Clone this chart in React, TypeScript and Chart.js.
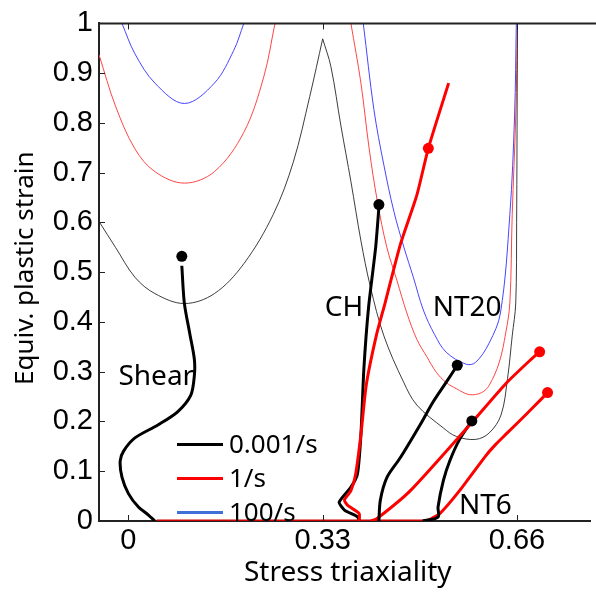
import React, { useEffect, useRef } from 'react';
import { Chart, registerables } from 'chart.js';

Chart.register(...registerables);

// ---- axis ticks ----
const xTicks = [0, 0.33, 0.66];
const xTickLabels = ['0', '0.33', '0.66'];
const yTicks = [0, 0.1, 0.2, 0.3, 0.4, 0.5, 0.6, 0.7, 0.8, 0.9, 1];
const yTickLabels = ['0', '0.1', '0.2', '0.3', '0.4', '0.5', '0.6', '0.7', '0.8', '0.9', '1'];

// ---- failure loci (thin) ----
const blackLocusLeftX = [-0.05, -0.022, 0.011, 0.045, 0.095, 0.146, 0.196, 0.246, 0.28, 0.308, 0.33];
const blackLocusLeftY = [0.602, 0.55, 0.49, 0.457, 0.437, 0.457, 0.517, 0.616, 0.721, 0.853, 0.969];
const blackLocusRightX = [0.33, 0.344, 0.361, 0.378, 0.395, 0.411, 0.434, 0.4675, 0.49, 0.535, 0.557, 0.59, 0.613, 0.633, 0.644, 0.652, 0.658, 0.6595, 0.6606, 0.661];
const blackLocusRightY = [0.969, 0.913, 0.794, 0.682, 0.563, 0.471, 0.372, 0.279, 0.233, 0.187, 0.17, 0.164, 0.177, 0.213, 0.286, 0.372, 0.438, 0.6, 0.9, 1.0];

const redLocusLeftX = [-0.05, -0.022, 0.011, 0.045, 0.095, 0.146, 0.196, 0.23, 0.249];
const redLocusLeftY = [0.937, 0.834, 0.748, 0.702, 0.679, 0.702, 0.781, 0.893, 1.0];
const redLocusRightX = [0.378, 0.395, 0.409, 0.423, 0.439, 0.456, 0.473, 0.49, 0.507, 0.523, 0.54, 0.557, 0.579, 0.6, 0.613, 0.63, 0.641, 0.648, 0.652, 0.658, 0.661];
const redLocusRightY = [1.0, 0.88, 0.748, 0.642, 0.55, 0.484, 0.418, 0.365, 0.33, 0.299, 0.278, 0.266, 0.254, 0.258, 0.273, 0.319, 0.378, 0.438, 0.616, 0.814, 1.0];

const blueLocusLeftX = [-0.011, 0.011, 0.045, 0.095, 0.146, 0.179, 0.196];
const blueLocusLeftY = [1.0, 0.939, 0.88, 0.839, 0.88, 0.946, 1.0];
const blueLocusRightX = [0.399, 0.417, 0.434, 0.451, 0.468, 0.484, 0.501, 0.52, 0.54, 0.574, 0.59, 0.613, 0.632, 0.648, 0.656, 0.659];
const blueLocusRightY = [1.0, 0.827, 0.715, 0.622, 0.55, 0.49, 0.424, 0.375, 0.339, 0.315, 0.319, 0.358, 0.418, 0.616, 0.814, 1.0];

// ---- test paths (thick) ----
const shearX = [0.045, 0.034, 0.017, 0.0, -0.011, -0.014, -0.008, 0.011, 0.05, 0.084, 0.106, 0.112, 0.112, 0.104, 0.095, 0.0907];
const shearY = [0.0, 0.012, 0.028, 0.055, 0.088, 0.121, 0.141, 0.167, 0.193, 0.22, 0.253, 0.292, 0.325, 0.378, 0.438, 0.513];

const chBlackX = [0.393, 0.389, 0.367, 0.358, 0.378, 0.389, 0.395, 0.4, 0.408, 0.42, 0.4255];
const chBlackY = [0.0, 0.0085, 0.022, 0.038, 0.068, 0.094, 0.174, 0.306, 0.43, 0.55, 0.63];
const chRedX = [0.392, 0.392, 0.372, 0.367, 0.378, 0.386, 0.395, 0.404, 0.421, 0.436, 0.462, 0.49, 0.5095, 0.544];
const chRedY = [0.0, 0.015, 0.032, 0.042, 0.061, 0.094, 0.174, 0.273, 0.372, 0.438, 0.556, 0.655, 0.749, 0.88];

const nt20BlackX = [0.4255, 0.428, 0.4394, 0.4618, 0.4954, 0.518, 0.54, 0.5587];
const nt20BlackY = [0.0, 0.042, 0.088, 0.127, 0.193, 0.24, 0.279, 0.313];
const nt20RedX = [0.412, 0.4225, 0.479, 0.5834, 0.641, 0.686, 0.6986];
const nt20RedY = [0.0, 0.005, 0.061, 0.198, 0.276, 0.327, 0.34];

const nt6BlackX = [0.5, 0.526, 0.526, 0.535, 0.546, 0.5626, 0.5834];
const nt6BlackY = [0.0, 0.008, 0.028, 0.081, 0.121, 0.164, 0.201];
const nt6RedX = [0.507, 0.529, 0.5626, 0.607, 0.624, 0.641, 0.6746, 0.6997, 0.712];
const nt6RedY = [0.0, 0.015, 0.061, 0.131, 0.154, 0.174, 0.213, 0.243, 0.258];

const redBaseX = [0.048, 0.51];
const redBaseY = [0, 0];

// ---- fracture points ----
const blackDotX = [0.0907, 0.4255, 0.5587, 0.5834];
const blackDotY = [0.532, 0.636, 0.313, 0.201];
const redDotX = [0.5095, 0.6986, 0.712];
const redDotY = [0.749, 0.34, 0.258];

// ---- annotations & legend ----
const noteTexts = ['Shear', 'CH', 'NT20', 'NT6'];
const noteX = [-0.017, 0.3335, 0.517, 0.5615];
const noteY = [0.2727, 0.411, 0.411, 0.0133];
const legendLabels = ['0.001/s', '1/s', '100/s'];
const legendColors = ['#000000', '#ff0000', '#3f6fd8'];

const xTitle = 'Stress triaxiality';
const yTitle = 'Equiv. plastic strain';

const zip = (xs: number[], ys: number[]) => xs.map((x, i) => ({ x, y: ys[i] }));

const LOCUS_BLACK = 'rgba(40,40,40,0.9)';
const LOCUS_RED = 'rgb(255,70,70)';
const LOCUS_BLUE = 'rgb(70,70,255)';
const TEXT_FONT = '"Noto Sans", "Open Sans", sans-serif';
const TICK_FONT = '"Liberation Sans", Arial, sans-serif';

function line(data: { x: number; y: number }[], color: string, width: number, order: number, tension = 0.35) {
  return {
    data,
    showLine: true,
    borderColor: color,
    backgroundColor: color,
    borderWidth: width,
    pointRadius: 0,
    pointHoverRadius: 0,
    tension,
    fill: false,
    order,
  };
}

const overlayPlugin = {
  id: 'overlay',
  afterDraw(chart: any) {
    const { ctx, chartArea, scales } = chart;
    const xs = scales.x;
    const ys = scales.y;
    ctx.save();
    // top border
    ctx.strokeStyle = '#222';
    ctx.lineWidth = 2;
    ctx.beginPath();
    ctx.moveTo(chartArea.left - 1, chartArea.top);
    ctx.lineTo(chart.width, chartArea.top);
    ctx.stroke();
    // inward ticks
    ctx.lineWidth = 1;
    ctx.strokeStyle = '#222';
    ctx.beginPath();
    yTicks.forEach((v) => {
      const py = Math.round(ys.getPixelForValue(v)) + 0.5;
      ctx.moveTo(chartArea.left, py);
      ctx.lineTo(chartArea.left + 6, py);
    });
    xTicks.forEach((v) => {
      const px = Math.round(xs.getPixelForValue(v)) + 0.5;
      ctx.moveTo(px, chartArea.bottom);
      ctx.lineTo(px, chartArea.bottom - 6);
      ctx.moveTo(px, chartArea.top);
      ctx.lineTo(px, chartArea.top + 6);
    });
    ctx.stroke();

    // annotations
    ctx.fillStyle = '#000';
    ctx.font = `28px ${TEXT_FONT}`;
    ctx.textAlign = 'left';
    ctx.textBaseline = 'alphabetic';
    noteTexts.forEach((t, i) => {
      ctx.fillText(t, xs.getPixelForValue(noteX[i]), ys.getPixelForValue(noteY[i]));
    });

    // legend
    const lx0 = chartArea.left + 78;
    const lx1 = chartArea.left + 124;
    const ly0 = chartArea.top + 421;
    const lstep = 34;
    ctx.font = `26px ${TEXT_FONT}`;
    ctx.textBaseline = 'middle';
    legendLabels.forEach((lab, i) => {
      const y = ly0 + i * lstep;
      ctx.strokeStyle = legendColors[i];
      ctx.lineWidth = 3;
      ctx.beginPath();
      ctx.moveTo(lx0, y);
      ctx.lineTo(lx1, y);
      ctx.stroke();
      ctx.fillStyle = '#000';
      ctx.fillText(lab, lx1 + 6, y + 1);
    });

    // axis titles
    ctx.fillStyle = '#000';
    ctx.font = `28px ${TEXT_FONT}`;
    ctx.textAlign = 'center';
    ctx.textBaseline = 'alphabetic';
    ctx.fillText(xTitle, (chartArea.left + chartArea.right) / 2 + 3, chart.height - 13);

    ctx.save();
    ctx.translate(33, (chartArea.top + chartArea.bottom) / 2 - 4);
    ctx.rotate(-Math.PI / 2);
    ctx.font = `26px ${TEXT_FONT}`;
    ctx.fillText(yTitle, 0, 0);
    ctx.restore();

    ctx.restore();
  },
};

export default function App() {
  const ref = useRef<HTMLCanvasElement | null>(null);

  useEffect(() => {
    if (!ref.current) return;
    const datasets: any[] = [
      line(zip(blackLocusLeftX, blackLocusLeftY), LOCUS_BLACK, 1, 5),
      line(zip(blackLocusRightX, blackLocusRightY), LOCUS_BLACK, 1, 5),
      line(zip(redLocusLeftX, redLocusLeftY), LOCUS_RED, 1, 5),
      line(zip(redLocusRightX, redLocusRightY), LOCUS_RED, 1, 5),
      line(zip(blueLocusLeftX, blueLocusLeftY), LOCUS_BLUE, 1, 5),
      line(zip(blueLocusRightX, blueLocusRightY), LOCUS_BLUE, 1, 5),
      line(zip(redBaseX, redBaseY), '#d00000', 3, 3, 0),
      line(zip(shearX, shearY), '#000', 3, 2, 0.3),
      line(zip(chRedX, chRedY), '#ff0000', 3, 2, 0.2),
      line(zip(chBlackX, chBlackY), '#000', 3, 2, 0.2),
      line(zip(nt20BlackX, nt20BlackY), '#000', 3, 2, 0.3),
      line(zip(nt20RedX, nt20RedY), '#ff0000', 3, 2, 0.2),
      line(zip(nt6BlackX, nt6BlackY), '#000', 3, 2, 0.3),
      line(zip(nt6RedX, nt6RedY), '#ff0000', 3, 2, 0.2),
      {
        data: zip(blackDotX, blackDotY),
        showLine: false,
        pointRadius: 5.5,
        pointBackgroundColor: '#000',
        pointBorderWidth: 0,
        order: 0,
      },
      {
        data: zip(redDotX, redDotY),
        showLine: false,
        pointRadius: 5.5,
        pointBackgroundColor: '#ff0000',
        pointBorderWidth: 0,
        order: 0,
      },
    ];

    const chart = new Chart(ref.current, {
      type: 'scatter',
      data: { datasets },
      options: {
        responsive: false,
        animation: false,
        layout: { padding: { top: 16, right: 0, left: 0, bottom: 0 } },
        plugins: { legend: { display: false }, tooltip: { enabled: false } },
        events: [],
        scales: {
          x: {
            type: 'linear',
            min: -0.05,
            max: 0.785,
            afterBuildTicks: (s: any) => {
              s.ticks = xTicks.map((v) => ({ value: v }));
            },
            afterFit: (s: any) => {
              s.height = 73;
            },
            ticks: {
              autoSkip: false,
              maxRotation: 0,
              padding: 3,
              color: '#000',
              font: { family: TICK_FONT, size: 29 },
              callback: (v: any) => {
                const i = xTicks.indexOf(Number(v));
                return i >= 0 ? xTickLabels[i] : '';
              },
            },
            grid: { display: false, drawTicks: false },
            border: { display: true, color: '#222', width: 2 },
          },
          y: {
            type: 'linear',
            min: 0,
            max: 1,
            afterBuildTicks: (s: any) => {
              s.ticks = yTicks.map((v) => ({ value: v }));
            },
            afterFit: (s: any) => {
              s.width = 99;
            },
            ticks: {
              autoSkip: false,
              padding: 6,
              color: '#000',
              font: { family: TICK_FONT, size: 29 },
              callback: (v: any) => {
                const i = yTicks.findIndex((t) => Math.abs(t - Number(v)) < 1e-6);
                return i >= 0 ? yTickLabels[i] : '';
              },
            },
            grid: { display: false, drawTicks: false },
            border: { display: true, color: '#222', width: 2 },
          },
        },
      },
      plugins: [overlayPlugin],
    });
    return () => chart.destroy();
  }, []);

  return (
    <div style={{ position: 'absolute', left: 0, top: 0, width: 596, height: 594, background: '#fff' }}>
      <canvas ref={ref} width={596} height={594} style={{ display: 'block' }} />
    </div>
  );
}
